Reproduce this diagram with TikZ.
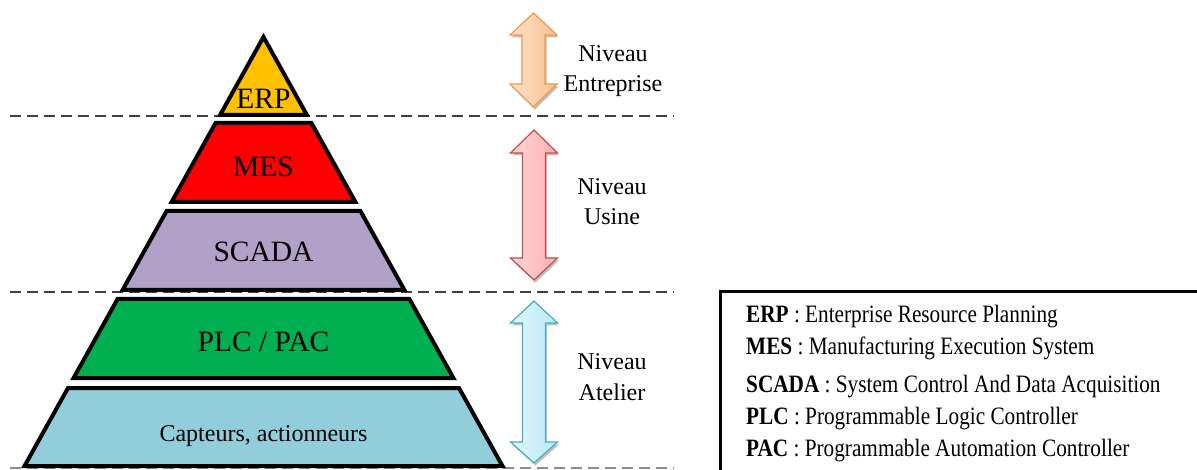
\documentclass[tikz,border=0pt]{standalone}
\usepackage{fontspec}
\setmainfont{Liberation Serif}
\usetikzlibrary{shadows}
\definecolor{erpc}{HTML}{FFC000}
\definecolor{mesc}{HTML}{FF0000}
\definecolor{scadac}{HTML}{B1A0C7}
\definecolor{plcc}{HTML}{00B050}
\definecolor{captc}{HTML}{92CDDC}
\definecolor{orline}{HTML}{F79646}
\definecolor{orlight}{HTML}{FDE3CC}
\definecolor{ordark}{HTML}{FAC090}
\definecolor{rdline}{HTML}{C0504D}
\definecolor{rdlight}{HTML}{FFD6D6}
\definecolor{rddark}{HTML}{FFAFAF}
\definecolor{blline}{HTML}{4BACC6}
\definecolor{bllight}{HTML}{E2F6FC}
\definecolor{bldark}{HTML}{B9E8F7}
\tikzset{
  layer/.style={draw=black, line width=4pt, line join=miter},
  sep/.style={dash pattern=on 11pt off 6pt, line width=1.4pt, draw=black!75},
  dblarrow/.style={line width=1.2pt, line join=miter,
    drop shadow={shadow xshift=1.5pt, shadow yshift=-2.5pt, opacity=0.25, fill=black}},
  big/.style={font=\fontsize{29.5}{31}\selectfont, inner sep=0pt, anchor=base},
  lvl/.style={font=\fontsize{24}{26}\selectfont, inner sep=0pt, anchor=base},
  leg/.style={font=\fontsize{25}{27}\selectfont, inner sep=0pt, anchor=base west},
}
\newcommand{\legtext}[2]{\scalebox{0.85}[1]{\textbf{#1} : #2}}
\begin{document}
\begin{tikzpicture}[x=1pt,y=-1pt]
\useasboundingbox (0,0) rectangle (1197,470);
\clip (0,0) rectangle (1197,470);
\fill[white] (0,0) rectangle (1197,470);
% separators
\draw[sep] (10,116) -- (674,116);
\draw[sep] (10,292) -- (674,292);
\draw[sep, draw=black!45] (10,468) -- (674,468);
% pyramid
\draw[layer, fill=erpc] (263.5,37) -- (306.9,115) -- (220.1,115) -- cycle;
\draw[layer, fill=mesc] (215.6,123) -- (311.4,123) -- (355.4,202) -- (171.6,202) -- cycle;
\draw[layer, fill=scadac] (166.6,211) -- (360.4,211) -- (404.4,290) -- (122.6,290) -- cycle;
\draw[layer, fill=plcc] (117.6,299) -- (409.4,299) -- (453.4,378) -- (73.6,378) -- cycle;
\draw[layer, fill=captc] (68,388) -- (459,388) -- (502.5,466) -- (24.5,466) -- cycle;
\node[big] (erp) at (263.5,109) {ERP};
\node[big] (mes) at (263.5,177) {MES};
\node[big] (scada) at (263.5,262) {SCADA};
\node[big] (plc) at (263.5,352) {PLC / PAC};
\node[lvl] (capt) at (263.5,441) {Capteurs, actionneurs};
% arrows
\draw[dblarrow, draw=orline, left color=orlight, right color=ordark]
  (533.5,13) -- (557,35) -- (545,35) -- (545,84) -- (557,84) -- (533.5,107)
  -- (510,84) -- (522,84) -- (522,35) -- (510,35) -- cycle;
\draw[dblarrow, draw=rdline, left color=rdlight, right color=rddark]
  (534,130) -- (557.5,153) -- (545.5,153) -- (545.5,258) -- (557.5,258) -- (534,280)
  -- (510.5,258) -- (522.5,258) -- (522.5,153) -- (510.5,153) -- cycle;
\draw[dblarrow, draw=blline, left color=bllight, right color=bldark]
  (534,301) -- (557.5,323) -- (545.5,323) -- (545.5,442) -- (557.5,442) -- (534,463)
  -- (510.5,442) -- (522.5,442) -- (522.5,323) -- (510.5,323) -- cycle;
% level labels
\node[lvl] (n1) at (613,62) {Niveau};
\node[lvl] (n1b) at (613,92) {Entreprise};
\node[lvl] (n2) at (612,195) {Niveau};
\node[lvl] (n2b) at (612,225) {Usine};
\node[lvl] (n3) at (612,370) {Niveau};
\node[lvl] (n3b) at (612,400) {Atelier};
% legend
\draw[line width=3pt, line cap=rect] (720,480) -- (720,292) -- (1210,292);
\node[leg] (l1) at (746,323) {\legtext{ERP}{Enterprise Resource Planning}};
\node[leg] (l2) at (746,355) {\legtext{MES}{Manufacturing Execution System}};
\node[leg] (l3) at (746,392) {\legtext{SCADA}{System Control And Data Acquisition}};
\node[leg] (l4) at (746,424) {\legtext{PLC}{Programmable Logic Controller}};
\node[leg] (l5) at (746,456) {\legtext{PAC}{Programmable Automation Controller}};
\end{tikzpicture}
\end{document}
